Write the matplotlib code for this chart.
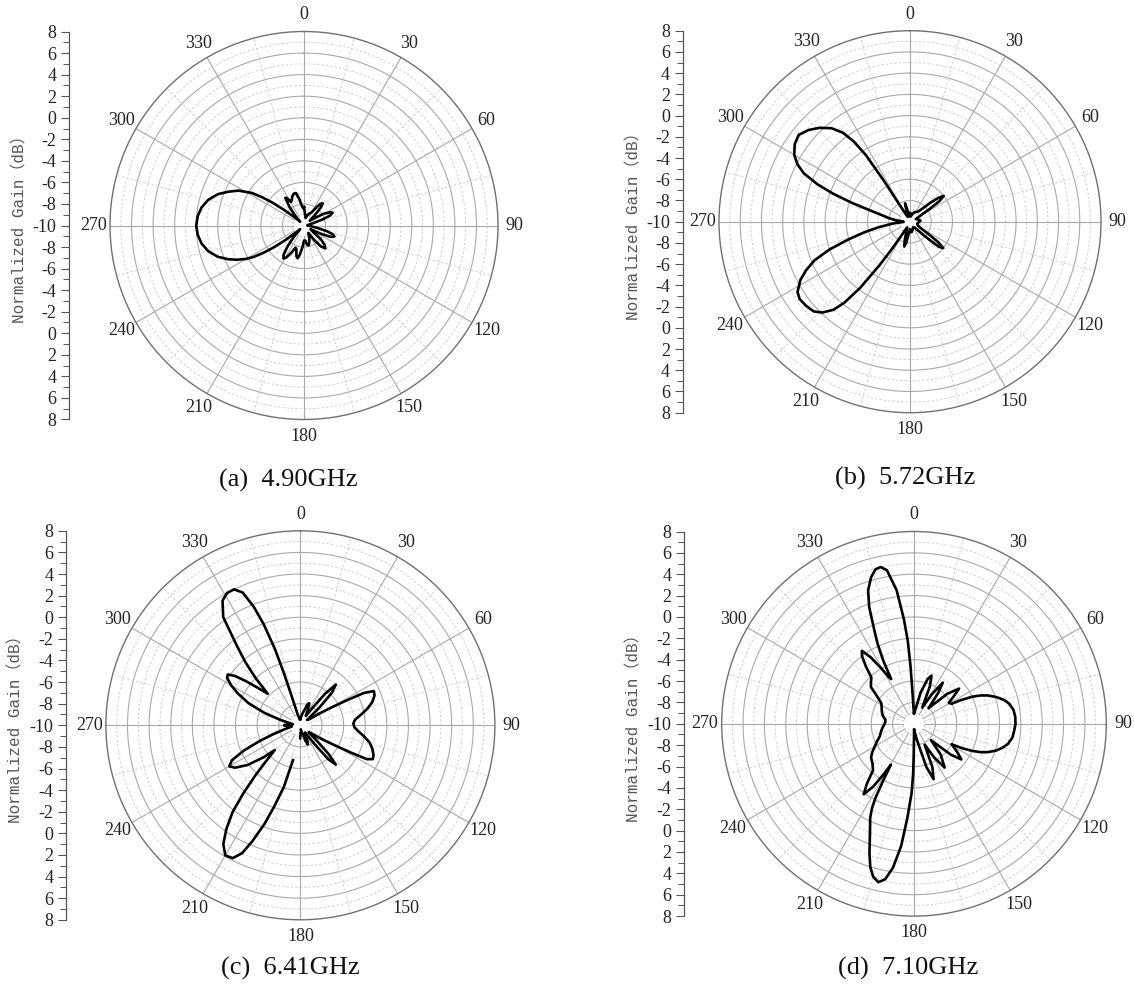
import numpy as np
import matplotlib
matplotlib.use('Agg')
import matplotlib.pyplot as plt

plt.rcParams['axes.unicode_minus'] = False

nan = float('nan')

# ---------------- data (angle in degrees, normalized gain in dB) ----------------
a_ang = [0, 6, 12, 18, 24, 30, 34, 37, 40, 43, 46, 50, 55, 59, 63, 66, 69, 72, 76, 82, 88, 94,
         100, 104, 107, 110, 113, 116, 120, 125, 129, 133, 137, 141, 145, 150, 156, 162, 167,
         171, 175, 180, 184, 188, 191, 194, 198, 201, 205, 209, 212, 215, 218, 222, 226, 229,
         232, 234, 236, 238, 240, 243, 246, 250, 255, 260, 265, 270, 275, 280, 285, 290, 294,
         298, 302, 304, 306, 308, 311, 314, 318, 322, 326, 328, 331, 334, 338, 342, 346, 350,
         354, 357, 360]
a_db = [-8.3, -9.0, -9.3, -9.0, -8.8, -8.6, -8.0, -7.5, -7.3, -7.7, -8.6, -9.3, -8.8, -7.9, -7.3,
        -7.1, -7.4, -8.2, -9.2, -9.6, -9.7, -9.5, -8.8, -7.8, -7.2, -7.0, -7.3, -8.2, -9.3, -9.0,
        -8.0, -7.4, -7.1, -7.5, -8.4, -9.2, -8.8, -8.4, -8.1, -8.2, -8.6, -8.6, -8.0, -7.3, -6.9,
        -7.1, -7.7, -7.8, -7.2, -6.6, -6.4, -6.7, -7.5, -8.6, -9.5, -9.0, -7.8, -6.6, -5.5, -4.5,
        -3.8, -3.0, -2.3, -1.5, -0.8, -0.35, -0.1, 0.0, -0.1, -0.35, -0.8, -1.5, -2.3, -3.1, -4.3,
        -5.3, -6.4, -7.6, -8.8, -9.5, -8.8, -7.8, -6.9, -7.0, -7.5, -7.4, -7.1, -6.9, -6.9, -7.5,
        -8.2, -8.4, -8.3]

b_ang = [0, 8, 16, 25, 34, 40, 44, 47, 50, 52.5, 55, 57, 60, 66, 75, 85, 95, 105, 115, 121, 124,
         126, 128.5, 131, 133, 136, 142, 152, 162, 172, 180, 186, 190, 193, 196, 200, 206, 210,
         212, 213.5, 215, 217, 219, 221, 224, 227, 231, 235, 238, 242, 245, 248, 251, 254, 257,
         260, 264, 268, 272, 276, 280, 283, 286, 288, 290, 292, 294.5, 297, 300, 304, 308, 312,
         316, 320, 323, 325, 326.5, 327.5, 328.5, 331, 336, 340, 343, 345, 347, 352, 357, 360]
b_db = [-9.2, -9.5, -9.3, -9.0, -8.9, -8.7, -8.2, -7.4, -6.5, -6.0, -6.6, -7.8, -8.9, -9.4, -9.2,
        -9.0, -9.2, -9.3, -9.2, -8.8, -7.8, -6.7, -6.0, -6.4, -7.5, -8.6, -9.3, -9.4, -9.2, -9.0,
        -9.3, -8.9, -8.0, -7.6, -8.2, -9.0, -9.4, -9.1, -8.4, -7.0, -5.0, -2.2, -0.2, 1.0, 1.9,
        2.4, 2.6, 2.7, 2.5, 1.7, 0.8, -0.3, -2.0, -4.0, -5.6, -7.0, -8.4, -9.4, -9.3, -8.6, -7.9,
        -7.3, -6.0, -4.2, -2.3, -0.6, 1.0, 1.9, 2.6, 3.1, 3.3, 2.9, 2.3, 1.5, 0.5, -0.8, -2.5,
        -5.5, -8.3, -9.3, -9.5, -9.2, -8.8, -8.2, -8.8, -9.5, -9.3, -9.2]

c_ang = [0, 8, 15, 19, 22, 25, 30, 35, 38, 41, 44, 47, 51, 55, 58, 60, 61.5, 63, 65, 68, 72, 76,
         80, 84, 88, 92, 96, 100, 104, 108, 112, 115, 117, 118.5, 120, 122, 125, 130, 133, 135.5,
         138, 140.5, 143, 147, 152, 156, 159, 162, 166, 170, 175, 177, 179, 181, 183, 192, 195,
         198, 200, 202.5, 204.5, 207, 210, 213, 215.5, 218, 220, 222, 224, 226, 229, 233, 237,
         240, 243, 246, 249, 252, 256, 262, 266, 269, 271, 274, 278, 282, 285, 289, 293, 297,
         300, 303, 305, 307, 309, 311, 314, 316.5, 319, 321.5, 324.5, 328, 331, 334, 336.5,
         338.5, 340, 341.5, 342.5, 343.5, 346, 352, 358, 360]
c_db = [-9.4, -9.0, -8.5, -7.9, -7.8, -8.3, -9.0, -8.0, -6.3, -5.0, -5.8, -7.6, -9.2, -9.0, -8.0,
        -6.8, -5.3, -3.4, -2.5, -2.6, -3.0, -3.6, -4.3, -4.9, -5.1, -5.0, -4.6, -4.0, -3.4, -3.0,
        -2.7, -2.6, -3.1, -4.8, -6.2, -7.3, -8.3, -9.0, -8.0, -6.3, -5.1, -5.9, -7.8, -9.2, -9.0,
        -8.4, -8.1, -8.5, -9.2, -9.4, -9.6, nan, -9.3, -8.8, nan, -6.7, -4.1, -2.0, -0.3, 1.6,
        3.0, 3.8, 3.9, 3.1, 1.8, 0.2, -1.8, -3.8, -5.6, -6.7, -5.5, -3.9, -2.8, -2.4, -2.9, -4.3,
        -6.0, -7.4, -8.5, -9.2, -9.0, -8.5, -8.5, -9.0, -9.3, -8.9, -8.1, -6.5, -4.8, -3.5, -2.6,
        -1.9, -1.8, -2.4, -3.5, -4.6, -5.8, -4.0, -2.2, -0.5, 2.3, 3.6, 4.0, 4.0, 3.4, 1.8, 0.0,
        -2.5, -5.0, -7.5, -9.0, -9.4, -9.5, -9.4]

d_ang = [0, 6, 12, 17, 20, 23, 27, 31, 35, 38, 43, 48, 52, 55, 59, 62, 63, 65, 67, 69, 72, 75,
         78, 82, 86, 90, 94, 98, 102, 105, 108, 111, 113, 115, 117, 118.5, 123, 127, 130, 134,
         139, 145, 149, 153, 157, 160.5, 164, 170, 175, 179, 180.5, 181, 182, 184, 186, 188.3,
         190.5, 192.7, 195, 197, 199, 202, 205, 206.5, 207.5, 208.5, 209.5, 211, 213, 215.5,
         218, 221.4, 226, 232, 236, 239.4, 245, 250, 256, 262, 268, 273, 278, 284, 290, 297,
         302, 305, 308, 310.5, 314, 317.4, 320, 322.5, 324.5, 327, 329.5, 331.5, 333, 334,
         335.5, 337, 339, 341, 343.7, 346, 348, 350, 352.6, 354.5, 355.7, 356.5, 357.2, 358.5, 360]
d_db = [-9.0, -8.6, -7.0, -5.6, -5.2, -6.2, -8.3, -6.8, -5.3, -6.3, -8.0, -5.8, -4.65, -5.4, -6.2,
        -6.0, -5.2, -4.0, -3.2, -2.6, -1.9, -1.3, -0.9, -0.6, -0.5, -0.5, -0.6, -0.7, -1.0, -1.4,
        -1.9, -2.6, -3.2, -4.0, -5.0, -6.0, -5.2, -4.45, -5.5, -7.8, -6.2, -5.0, -6.3, -7.8, -5.6,
        -4.5, -5.8, -8.5, -9.2, -9.5, -7.0, -5.3, -3.5, -1.2, 1.5, 3.6, 4.8, 5.2, 4.8, 4.0, 2.8,
        1.0, -0.3, -1.2, -2.2, -4.0, -5.6, -4.5, -3.0, -1.9, -2.8, -4.2, -4.6, -4.9, -5.3, -5.7,
        -6.2, -6.6, -6.8, -7.0, -7.2, -7.3, -7.3, -7.0, -6.8, -6.6, -6.4, -6.0, -5.4, -4.7, -4.4,
        -4.1, -3.0, -2.0, -1.6, -2.6, -4.0, -5.0, -5.3, -3.5, -1.8, -0.5, 1.7, 3.2, 4.3, 4.9, 5.0,
        4.6, 2.6, -0.2, -2.2, -4.5, -6.9, -8.7, -9.0]

captions = ['(a)  4.90GHz', '(b)  5.72GHz', '(c)  6.41GHz', '(d)  7.10GHz']
angle_labels = [str(a) for a in range(0, 360, 30)]
r_min, r_max = -10, 8

# ---------------- layout (pixels) ----------------
W, H = 1134, 985
fig = plt.figure(figsize=(W / 100, H / 100), dpi=100)

layout = [
    dict(cx=304.0, cy=225.5, R=194.0, axx=69.0, labx=20.0, capx=288, capy=480),
    dict(cx=910.0, cy=221.7, R=191.0, axx=682.5, labx=634.0, capx=905, capy=478),
    dict(cx=300.4, cy=725.3, R=194.5, axx=65.7, labx=16.0, capx=290, capy=968),
    dict(cx=914.0, cy=723.8, R=192.3, axx=684.0, labx=634.0, capx=908, capy=968),
]
series = [(a_ang, a_db), (b_ang, b_db), (c_ang, c_db), (d_ang, d_db)]

serif = 'Liberation Serif'
th_full = np.linspace(0, 2 * np.pi, 721)

for lay, (ang, db), cap in zip(layout, series, captions):
    cx, cy, R = lay['cx'], lay['cy'], lay['R']
    ax = fig.add_axes([(cx - R) / W, 1 - (cy + R) / H, 2 * R / W, 2 * R / H],
                      projection='polar')
    ax.set_theta_zero_location('N')
    ax.set_theta_direction(-1)
    ax.set_rlim(r_min, r_max)
    ax.grid(False)
    ax.set_yticks([])
    ax.set_xticks(np.deg2rad(np.arange(0, 360, 30)))
    ax.set_xticklabels(angle_labels, fontsize=13, family=serif, color='#222222')
    ax.tick_params(axis='x', pad=5, length=0)
    ax.spines['polar'].set_color('#707070')
    ax.spines['polar'].set_linewidth(1.0)

    # grid circles
    for rv in range(-8, 8, 2):
        ax.plot(th_full, np.full_like(th_full, rv), color='#a9a9a9', lw=0.8, zorder=1)
    for rv in range(-9, 8, 2):
        ax.plot(th_full, np.full_like(th_full, rv), color='#d0d0d0', lw=0.7,
                ls=(0, (2.5, 2.0)), zorder=1)
    # spokes
    for a in range(0, 360, 30):
        t = np.deg2rad(a)
        ax.plot([t, t], [-9, r_max], color='#a9a9a9', lw=0.8, zorder=1)
    for a in range(15, 360, 30):
        t = np.deg2rad(a)
        ax.plot([t, t], [-9, r_max], color='#d0d0d0', lw=0.7, ls=(0, (2.5, 2.0)), zorder=1)

    # pattern
    ax.plot(np.deg2rad(ang), db, color='black', lw=1.9, zorder=3, solid_joinstyle='round')

    # left dB scale
    ay = fig.add_axes([lay['axx'] / W, 1 - (cy + R) / H, 0.0005, 2 * R / H])
    ay.set_ylim(-18, 18)
    ay.patch.set_alpha(0)
    for s in ['top', 'right', 'bottom']:
        ay.spines[s].set_visible(False)
    ay.spines['left'].set_color('#555555')
    ay.spines['left'].set_linewidth(0.9)
    ay.set_xticks([])
    major = list(range(-18, 19, 2))
    ay.set_yticks(major)
    ay.set_yticklabels([str(-10 + abs(v)) for v in major], fontsize=13, family=serif,
                       color='#222222')
    ay.set_yticks(list(range(-18, 19, 1)), minor=True)
    ay.tick_params(axis='y', which='major', length=6, width=0.8, color='#555555', pad=3)
    ay.tick_params(axis='y', which='minor', length=4, width=0.7, color='#555555')

    fig.text(lay['labx'] / W, 1 - cy / H, 'Normalized Gain（dB）', rotation=90,
             ha='center', va='center', fontsize=11.5, color='#555555',
             family=['Liberation Mono', 'Noto Sans CJK SC'])
    fig.text(lay['capx'] / W, 1 - lay['capy'] / H, cap, ha='center', va='center',
             fontsize=19, family=serif, color='#111111')

fig.savefig('out.png', dpi=100)
